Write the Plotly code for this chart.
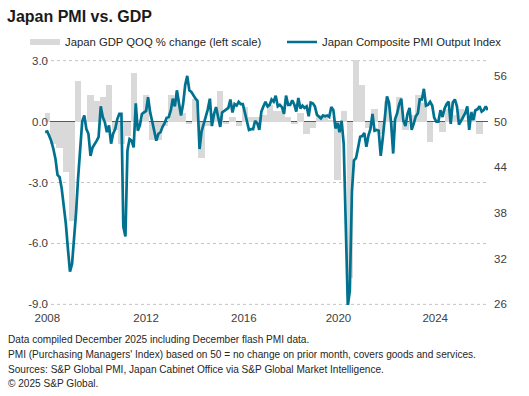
import plotly.graph_objects as go
import pandas as pd

# Japan Composite PMI Output Index, monthly, Jan 2008 - Dec 2025
pmi_2008 = [48.6, 48.7, 48.1, 47.4, 46.4, 45.1, 43.0, 42.7, 41.2, 39.2, 36.6, 33.4]
pmi_2009 = [30.3, 31.3, 34.0, 38.0, 42.5, 46.5, 50.0, 50.8, 49.0, 48.4, 45.5, 46.6]
pmi_2010 = [47.0, 47.5, 48.0, 52.0, 50.6, 49.9, 48.6, 49.5, 47.1, 48.4, 49.0, 50.3]
pmi_2011 = [51.0, 51.0, 36.2, 34.9, 46.2, 47.7, 47.5, 46.6, 52.4, 48.8, 49.5, 51.0]
pmi_2012 = [51.2, 51.4, 53.2, 51.2, 50.0, 48.8, 47.5, 48.4, 48.6, 49.3, 49.8, 50.5]
pmi_2013 = [50.6, 51.5, 53.0, 52.0, 54.1, 52.4, 50.8, 52.3, 54.8, 56.0, 54.1, 53.9]
pmi_2014 = [53.4, 53.0, 52.7, 46.4, 48.7, 49.7, 50.5, 51.6, 53.0, 49.4, 51.0, 51.9]
pmi_2015 = [50.6, 49.3, 51.2, 51.4, 51.6, 51.8, 52.9, 51.2, 52.3, 52.1, 52.6, 52.3]
pmi_2016 = [52.3, 51.0, 50.0, 48.9, 49.0, 49.0, 50.1, 49.8, 48.9, 51.3, 52.0, 52.6]
pmi_2017 = [52.0, 52.2, 52.9, 52.6, 53.4, 52.0, 52.2, 51.9, 51.0, 53.4, 52.2, 52.2]
pmi_2018 = [52.8, 52.2, 51.3, 53.1, 51.7, 52.1, 51.8, 52.0, 50.7, 52.5, 52.4, 52.0]
pmi_2019 = [50.9, 50.7, 50.4, 50.8, 50.7, 50.8, 50.6, 51.9, 51.5, 49.1, 49.8, 48.6]
pmi_2020 = [50.1, 47.0, 36.2, 25.8, 27.8, 40.8, 44.9, 45.2, 46.6, 48.0, 48.1, 48.5]
pmi_2021 = [46.7, 48.2, 49.0, 51.0, 48.8, 48.9, 48.8, 45.5, 47.9, 50.7, 53.3, 52.5]
pmi_2022 = [49.9, 45.8, 50.3, 51.1, 52.3, 53.0, 50.2, 49.4, 51.0, 51.8, 48.9, 49.7]
pmi_2023 = [50.7, 51.1, 52.9, 52.9, 54.3, 52.1, 52.2, 52.6, 52.1, 50.5, 50.0, 50.0]
pmi_2024 = [51.5, 50.6, 51.7, 52.3, 52.6, 49.7, 52.5, 52.9, 52.0, 49.6, 50.1, 50.5]
pmi_2025 = [51.1, 52.0, 48.9, 51.2, 50.2, 51.5, 51.6, 52.0, 51.3, 51.5, 52.0, 51.5]

# Japan GDP QOQ % change, quarterly, Q1 2008 - Q3 2025
gdp_2008 = [0.4, -1.1, -1.3, -2.5]
gdp_2009 = [-4.9, 2.0, 0.1, 1.3]
gdp_2010 = [1.0, 1.2, 1.8, -0.4]
gdp_2011 = [-1.1, -0.7, 2.4, 0.1]
gdp_2012 = [1.3, -0.9, -0.9, -0.2]
gdp_2013 = [1.3, 1.1, 0.4, -0.1]
gdp_2014 = [1.1, -1.8, -0.2, 0.4]
gdp_2015 = [1.5, -0.1, 0.2, -0.2]
gdp_2016 = [0.7, 0.2, 0.2, 0.3]
gdp_2017 = [0.8, 0.5, 0.5, 0.2]
gdp_2018 = [-0.1, 0.4, -0.6, -0.3]
gdp_2019 = [0.3, 0.2, 0.1, -2.9]
gdp_2020 = [0.5, -7.7, 5.3, 1.8]
gdp_2021 = [-0.3, 0.6, -0.6, 1.0]
gdp_2022 = [-0.5, 1.2, -0.4, 0.3]
gdp_2023 = [1.3, 0.9, -1.0, 0.0]
gdp_2024 = [-0.5, 0.6, 0.3, 0.6]
gdp_2025 = [0.1, 0.5, -0.6]

left_range = [-9, 3]
right_range = [26, 58]
left_tickvals = [-9, -6, -3, 0, 3]
left_ticktext = ["-9.0", "-6.0", "-3.0", "0.0", "3.0"]
right_tickvals = [26, 32, 38, 44, 50, 56]
year_labels = ["2008", "2012", "2016", "2020", "2024"]
year_tick_dates = ["2008-02-01", "2012-02-01", "2016-01-15", "2019-11-15", "2023-10-15"]

GDP_NAME = "Japan GDP QOQ % change (left scale)"
PMI_NAME = "Japan Composite PMI Output Index"
TITLE = "Japan PMI vs. GDP"
NOTES = [
    "Data compiled December 2025 including December flash PMI data.",
    "PMI (Purchasing Managers' Index) based on 50 = no change on prior month, covers goods and services.",
    "Sources: S&P Global PMI, Japan Cabinet Office via S&P Global Market Intelligence.",
    "\u00a9 2025 S&P Global.",
]

pmi = (pmi_2008 + pmi_2009 + pmi_2010 + pmi_2011 + pmi_2012 + pmi_2013 + pmi_2014 + pmi_2015
       + pmi_2016 + pmi_2017 + pmi_2018 + pmi_2019 + pmi_2020 + pmi_2021 + pmi_2022 + pmi_2023
       + pmi_2024 + pmi_2025)
gdp = (gdp_2008 + gdp_2009 + gdp_2010 + gdp_2011 + gdp_2012 + gdp_2013 + gdp_2014 + gdp_2015
       + gdp_2016 + gdp_2017 + gdp_2018 + gdp_2019 + gdp_2020 + gdp_2021 + gdp_2022 + gdp_2023
       + gdp_2024 + gdp_2025)

months = pd.date_range("2008-01-01", periods=len(pmi), freq="MS")
quarters = pd.date_range("2008-02-01", periods=len(gdp), freq="3MS")

BAR_COLOR = "#d9d9d9"
LINE_COLOR = "#00718F"
GRID_COLOR = "#c4c4c4"
FONT = "Liberation Sans, Arial, sans-serif"

# tiny symmetric padding so the edge gridlines (3.0 and -9.0) stay inside the plot
pad_frac = 0.03 / 12
lspan = left_range[1] - left_range[0]
rspan = right_range[1] - right_range[0]
left_r = [left_range[0] - pad_frac * lspan, left_range[1] + pad_frac * lspan]
right_r = [right_range[0] - pad_frac * rspan, right_range[1] + pad_frac * rspan]

fig = go.Figure()
fig.add_trace(go.Bar(
    x=quarters, y=gdp, marker=dict(color=BAR_COLOR, line=dict(width=0)),
    width=93 * 86400000, showlegend=False, yaxis="y", hoverinfo="skip",
))
fig.add_trace(go.Scatter(
    x=[None], y=[None], mode="lines", line=dict(color=BAR_COLOR, width=6),
    name=GDP_NAME, yaxis="y", legend="legend",
))
fig.add_trace(go.Scatter(
    x=months, y=pmi, mode="lines", line=dict(color=LINE_COLOR, width=2.7),
    name=PMI_NAME, yaxis="y2", legend="legend2",
))

# edge gridlines (Plotly skips gridlines on the plot boundary)
for v in (left_range[0], left_range[1]):
    fig.add_shape(type="line", xref="paper", x0=0, x1=1, yref="y", y0=v, y1=v,
                  line=dict(color=GRID_COLOR, width=1, dash="dot"), layer="below")

W, H = 529, 396
ml, mr, mt, mb = 45, 41, 60, 91
plot_w = W - ml - mr
plot_h = H - mt - mb

annotations = []
note_y = [339, 354, 369, 384]
for txt, py in zip(NOTES, note_y):
    annotations.append(dict(
        text=txt, xref="paper", yref="paper",
        x=(6 - ml) / plot_w, y=(H - mb - py) / plot_h,
        xanchor="left", yanchor="middle", showarrow=False,
        font=dict(size=10.1, color="#262626", family=FONT),
    ))

legend_common = dict(orientation="h", yanchor="middle", xanchor="left",
                     font=dict(size=11.3, color="#262626"),
                     bgcolor="rgba(0,0,0,0)", itemwidth=30)

fig.update_layout(
    width=W, height=H,
    margin=dict(l=ml, r=mr, t=mt, b=mb, autoexpand=False),
    paper_bgcolor="white", plot_bgcolor="white",
    font=dict(family=FONT, size=12, color="#404040"),
    title=dict(text="<b>" + TITLE + "</b>", x=7 / W, xanchor="left",
               y=1 - 16 / H, yanchor="middle",
               font=dict(size=16, color="#1a1a1a", family=FONT)),
    bargap=0,
    showlegend=True,
    legend=dict(x=(25 - ml) / plot_w, y=(H - mb - 42) / plot_h, **legend_common),
    legend2=dict(x=(282 - ml) / plot_w, y=(H - mb - 42) / plot_h, **legend_common),
    xaxis=dict(type="date", range=["2007-12-29", "2025-12-04"],
               tickvals=year_tick_dates, ticktext=year_labels,
               showgrid=False, zeroline=False, showline=False, ticks="",
               ticklabelstandoff=4,
               tickfont=dict(size=11.5, color="#404040")),
    yaxis=dict(range=left_r, tickvals=left_tickvals, ticktext=left_ticktext,
               showgrid=True, gridcolor=GRID_COLOR, griddash="dot", gridwidth=1,
               zeroline=True, zerolinecolor="#5a5a5a", zerolinewidth=1,
               showline=False, ticks="", ticklabelstandoff=-4,
               tickfont=dict(size=11.5, color="#404040")),
    yaxis2=dict(range=right_r, tickvals=right_tickvals, overlaying="y", side="right",
                showgrid=False, zeroline=False, showline=False, ticks="",
                ticklabelstandoff=5,
                tickfont=dict(size=11.5, color="#404040")),
    annotations=annotations,
)

fig.write_html("out.html", config={"displayModeBar": False},
               post_script="document.body.style.margin='0';")
